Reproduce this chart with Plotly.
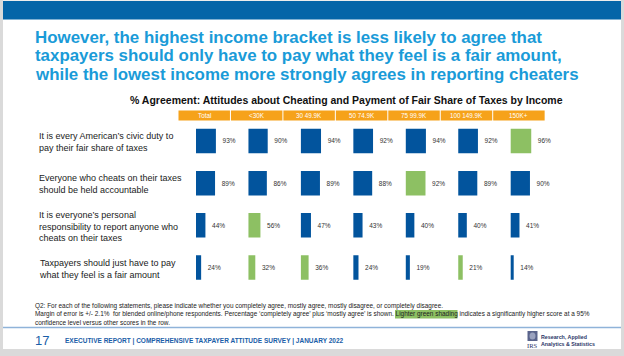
import plotly.graph_objects as go

# ---------------- data ----------------
columns = ["Total", "<30K", "30 49.9K", "50 74.9K", "75 99.9K", "100 149.9K", "150K+"]
statements = [
    "It is every American’s civic duty to<br>pay their fair share of taxes",
    "Everyone who cheats on their taxes<br>should be held accountable",
    "It is everyone’s personal<br>responsibility to report anyone who<br>cheats on their taxes",
    "Taxpayers should just have to pay<br>what they feel is a fair amount",
]
civic_duty = [93, 90, 94, 92, 94, 92, 96]
accountable = [89, 86, 89, 88, 92, 89, 90]
report_cheaters = [44, 56, 47, 43, 40, 40, 41]
pay_what_feel = [24, 32, 36, 24, 19, 21, 14]
civic_duty_sig = [0, 0, 0, 0, 0, 0, 1]
accountable_sig = [0, 0, 0, 0, 1, 0, 0]
report_cheaters_sig = [0, 1, 0, 0, 0, 0, 0]
pay_what_feel_sig = [0, 1, 1, 0, 0, 1, 0]

rows = [civic_duty, accountable, report_cheaters, pay_what_feel]
sigs = [civic_duty_sig, accountable_sig, report_cheaters_sig, pay_what_feel_sig]

title_lines = [
    "However, the highest income bracket is less likely to agree that",
    "taxpayers should only have to pay what they feel is a fair amount,",
    "while the lowest income more strongly agrees in reporting cheaters",
]
subtitle = "% Agreement: Attitudes about Cheating and Payment of Fair Share of Taxes by Income"
note_lines = [
    "Q2: For each of the following statements, please indicate whether you completely agree, mostly agree, mostly disagree, or completely disagree.",
    "Margin of error is +/- 2.1%  for blended online/phone respondents. Percentage ‘completely agree’ plus ‘mostly agree’ is shown. Lighter green shading indicates a significantly higher score at a 95%",
    "confidence level versus other scores in the row.",
]
footer_text = "EXECUTIVE REPORT | COMPREHENSIVE TAXPAYER ATTITUDE SURVEY | JANUARY 2022"
page_number = "17"

# ---------------- styling ----------------
W, H = 624, 356
BLUE = "#02549d"
GREEN = "#8dc063"
ORANGE = "#f6a21a"
TITLE_BLUE = "#1a9bd8"
FONT = "Liberation Sans"


def px(x):
    return x / W


def py(y):
    return 1 - y / H


col_start = 178.0
col_w = 52.45
bar_off = 18.0
px_per_pct = 0.214
row_top, row_bot = 119.9, 288.6

fig = go.Figure()
layout_axes = {}
for i, col in enumerate(columns):
    xa = "x" if i == 0 else f"x{i+1}"
    vals = [r[i] for r in rows]
    cols = [GREEN if s[i] else BLUE for s in sigs]
    fig.add_trace(go.Bar(
        x=vals, y=statements, orientation="h", xaxis=xa, yaxis="y",
        marker=dict(color=cols, line=dict(width=0)),
        text=[f"  {v}%" for v in vals], textposition="outside",
        textfont=dict(size=6.5, color="#333333", family=FONT),
        cliponaxis=False, constraintext="none", showlegend=False,
        hoverinfo="skip",
    ))
    cs = col_start + col_w * i
    key = "xaxis" if i == 0 else f"xaxis{i+1}"
    layout_axes[key] = dict(
        domain=[px(cs), px(cs + col_w)], anchor="y",
        range=[-bar_off / px_per_pct, (col_w - bar_off) / px_per_pct],
        visible=False, fixedrange=True,
    )

fig.update_layout(**layout_axes)
fig.update_layout(
    width=W, height=H, margin=dict(l=0, r=0, t=0, b=0),
    paper_bgcolor="#dadada", plot_bgcolor="rgba(0,0,0,0)",
    bargap=0.42,
    yaxis=dict(domain=[py(row_bot), py(row_top)], type="category",
               categoryorder="array", categoryarray=statements,
               range=[3.5, -0.5], visible=False, anchor="x", fixedrange=True),
    font=dict(family=FONT),
)

shapes = [
    # slide
    dict(type="rect", xref="paper", yref="paper", x0=px(3), x1=px(621), y0=py(349), y1=py(0.5),
         fillcolor="white", line=dict(width=0), layer="below"),
    # top band
    dict(type="rect", xref="paper", yref="paper", x0=px(3), x1=px(621), y0=py(19.5), y1=py(1),
         fillcolor="#0565a8", line=dict(width=0), layer="below"),
    # footer separator
    dict(type="line", xref="paper", yref="paper", x0=px(3), x1=px(621), y0=py(327.5), y1=py(327.5),
         line=dict(color="#8fb3d9", width=1.5), layer="below"),
    # highlight
    dict(type="rect", xref="paper", yref="paper", x0=px(395), x1=px(457.5), y0=py(318.5), y1=py(310),
         fillcolor="#8dc063", line=dict(width=0), layer="below"),
    # logo emblem
    dict(type="rect", xref="paper", yref="paper", x0=px(527.5), x1=px(537.5), y0=py(341), y1=py(331),
         fillcolor="#5a648c", line=dict(width=0), layer="below"),
    dict(type="circle", xref="paper", yref="paper", x0=px(529.5), x1=px(535.5), y0=py(339.5), y1=py(332.5),
         fillcolor="#9aa2bf", line=dict(width=0), layer="below"),
]
annotations = []
for i, col in enumerate(columns):
    cs = col_start + col_w * i
    shapes.append(dict(type="rect", xref="paper", yref="paper", x0=px(cs + 0.5), x1=px(cs + col_w - 0.5),
                       y0=py(120.5), y1=py(110.5), fillcolor=ORANGE, line=dict(width=0), layer="below"))
    annotations.append(dict(x=px(cs + col_w / 2), y=py(115.5), xref="paper", yref="paper",
                            text=col, showarrow=False, xanchor="center", yanchor="middle",
                            font=dict(size=6.3, color="white", family=FONT)))

for k, t in enumerate(title_lines):
    annotations.append(dict(x=px(32.5), y=py([37.5, 56, 74.5][k]), xref="paper", yref="paper",
                            text=f"<b>{t}</b>", showarrow=False, xanchor="left", yanchor="middle",
                            font=dict(size=16.9, color=TITLE_BLUE, family=FONT)))

annotations.append(dict(x=px(346), y=py(99.5), xref="paper", yref="paper", text=f"<b>{subtitle}</b>",
                        showarrow=False, xanchor="center", yanchor="middle",
                        font=dict(size=10.5, color="#111111", family=FONT)))

for i, s in enumerate(statements):
    annotations.append(dict(x=px(37), y=i, xref="paper", yref="y", text=s, showarrow=False,
                            xanchor="left", yanchor="middle", align="left", yshift=-1,
                            font=dict(size=9, color="#1a1a1a", family=FONT)))

for k, t in enumerate(note_lines):
    annotations.append(dict(x=px(33), y=py([306, 314.2, 322.5][k]), xref="paper", yref="paper",
                            text=t, showarrow=False, xanchor="left", yanchor="middle",
                            font=dict(size=6.43, color="#222222", family=FONT)))

annotations.append(dict(x=px(33), y=py(340.5), xref="paper", yref="paper", text=page_number,
                        showarrow=False, xanchor="left", yanchor="middle",
                        font=dict(size=13, color="#1a5ea8", family=FONT)))
annotations.append(dict(x=px(63), y=py(341), xref="paper", yref="paper", text=f"<b>{footer_text}</b>",
                        showarrow=False, xanchor="left", yanchor="middle",
                        font=dict(size=6.5, color="#1a5ea8", family=FONT)))
annotations.append(dict(x=px(532.5), y=py(345), xref="paper", yref="paper", text="IRS",
                        showarrow=False, xanchor="center", yanchor="middle",
                        font=dict(size=6.5, color="#2c3566", family="Liberation Serif")))
annotations.append(dict(x=px(538.5), y=py(337), xref="paper", yref="paper", text="<b>Research, Applied</b>",
                        showarrow=False, xanchor="left", yanchor="middle",
                        font=dict(size=5.3, color="#2c3566", family=FONT)))
annotations.append(dict(x=px(538.5), y=py(344), xref="paper", yref="paper", text="<b>Analytics & Statistics</b>",
                        showarrow=False, xanchor="left", yanchor="middle",
                        font=dict(size=5.3, color="#2c3566", family=FONT)))

fig.update_layout(shapes=shapes, annotations=annotations)
fig.write_html("out.html", config={"displayModeBar": False},
               post_script="document.body.style.margin='0';document.body.style.overflow='hidden';")
